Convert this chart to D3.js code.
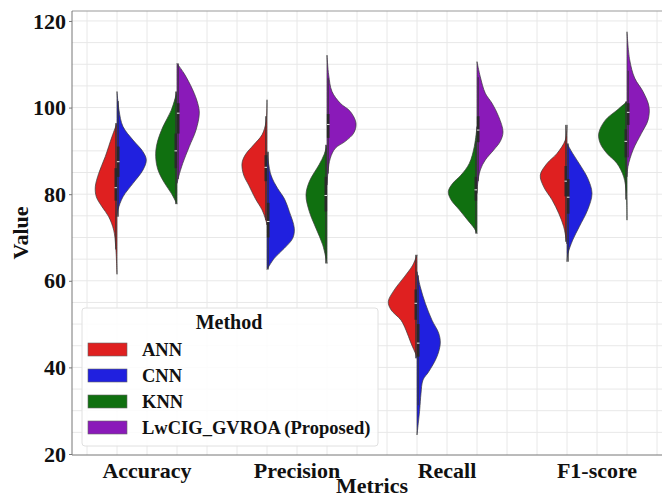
<!DOCTYPE html>
<head>
<meta charset="utf-8">
<script src="https://d3js.org/d3.v7.min.js"></script>
<style>
  body { margin: 0; background: #fff; }
  svg { display: block; font-family: "Liberation Serif", "DejaVu Serif", serif; }
</style>
</head>
<body>
<script>
const metrics = ["Accuracy", "Precision", "Recall", "F1-score"],
    methods = ["ANN", "CNN", "KNN", "LwCIG_GVROA (Proposed)"],
    colors = ["#df2020", "#2020df", "#107010", "#8a1ab9"],
    yTicks = [20, 40, 60, 80, 100, 120];

// density profiles: [value, relative density], one list per metric
const annProfiles = [
    [[61.5, 0], [67.9, 1.3], [71.7, 3.3], [74.8, 8.3], [77.1, 15], [79.4, 20.7], [81.7, 21.7], [84.8, 18.3], [88.7, 11.7], [93.3, 5], [96.4, 0]],
    [[72.9, 0], [74.4, 1.7], [76.4, 5], [79.0, 11.7], [82.1, 18.3], [84.4, 23.3], [87.1, 25], [89.1, 21.7], [91.4, 13.3], [93.7, 5], [96.7, 1], [101.8, 0]],
    [[42.1, 0], [42.9, 1], [45.6, 6], [48.6, 11], [50.9, 16], [53.3, 26], [55.2, 28.7], [57.9, 22.7], [60.9, 12.7], [63.6, 4.3], [66, 0]],
    [[68.5, 0], [69.4, 0.7], [72.5, 3.3], [75.6, 8.3], [78.7, 15], [81.7, 23.3], [84.4, 26.7], [87.1, 20], [89.4, 10], [92.5, 1.7], [96, 0]]
];
const cnnProfiles = [
    [[74.8, 0], [76.4, 1], [79.4, 6], [82.5, 16], [85.6, 26], [87.9, 29.3], [89.8, 26], [92.5, 16], [95.6, 6], [99.4, 2], [103.7, 0]],
    [[62.6, 0], [65.2, 7.3], [67.5, 17.3], [69.8, 25.7], [72.1, 27.3], [76, 22.3], [79, 17.3], [81.3, 10.7], [84.4, 4], [89.8, 0]],
    [[24.4, 0], [30.2, 2.7], [34, 4], [37.1, 6], [39, 11.7], [42.5, 20], [45.6, 23.3], [47.9, 21.7], [50.9, 15], [54.8, 8.3], [58.6, 3.3], [62.1, 0]],
    [[64.4, 0], [66.3, 1], [69.4, 5.7], [72.5, 12.3], [76.4, 20.7], [80.2, 25], [83.7, 20.7], [86.4, 14], [89.4, 5.7], [91.7, 0]]
];
const knnProfiles = [
    [[77.7, 0], [80.2, 5.7], [82.5, 12.3], [85.6, 19], [88.7, 21.3], [91.7, 20], [95.6, 14], [99.4, 5.7], [103.7, 0]],
    [[64, 0], [68.3, 4.3], [72.1, 11], [76, 17.7], [79.8, 21], [82.9, 17.7], [86.9, 7.7], [89.1, 3], [91.4, 0]],
    [[70.9, 0], [72.1, 2.7], [74, 9.3], [76.4, 17.7], [78.7, 26], [80.6, 28.7], [82.5, 24.3], [84.4, 16], [87.1, 7.7], [91, 2.7], [95.6, 0]],
    [[74, 0], [80.2, 0.7], [84, 3.3], [87.1, 10], [89.4, 20], [91.7, 26.7], [94, 28.3], [97.1, 21.7], [99.4, 10], [101.4, 0]]
];
const propProfiles = [
    [[82.5, 0], [84.1, 1.7], [87.1, 5.7], [91, 12.3], [94.8, 19], [98.7, 22.3], [101, 20.7], [104.1, 15.7], [107.9, 7], [110.2, 0]],
    [[82.1, 0], [85.2, 1], [88.3, 3.3], [90.6, 8.3], [92.2, 18.3], [94.1, 26.7], [96.4, 29], [99.1, 23.3], [101, 13.3], [103.7, 5], [107.5, 1.7], [112.1, 0]],
    [[80.2, 0], [82.5, 0.7], [85.6, 3.3], [87.9, 8.3], [90.2, 16.7], [92.2, 23.3], [94.4, 26], [97.9, 21.7], [101, 15], [103.3, 8.3], [107.1, 3.3], [110.6, 0]],
    [[84, 0], [86.4, 1], [90.2, 6], [94, 14.3], [97.1, 21], [100.2, 22], [103.7, 16], [106.8, 7.7], [111, 2.7], [117.5, 0]]
];

// quartiles per metric: [q1, median, q3]
const annBox = [[78.5, 81.5, 86], [83, 86.2, 89], [51, 54.8, 58], [79.5, 83, 86.5]];
const cnnBox = [[84, 87.5, 91], [70, 73.7, 78], [42.5, 45.6, 50], [75.5, 79.3, 83.5]];
const knnBox = [[86, 90, 94], [76, 79.7, 84], [78.5, 81, 84], [88.5, 92.2, 95]];
const propBox = [[94, 98.7, 101], [93, 96.1, 98.5], [92, 94.8, 98], [96, 98.9, 101]];

const W = 662, H = 498,
    margin = { left: 72, top: 11, bottom: 455 };

const svg = d3.select("body").append("svg").attr("width", W).attr("height", H);

const x = d3.scaleBand().domain(metrics).range([margin.left, 672]),
    y = d3.scaleLinear().domain([19.77, 122.3]).range([margin.bottom, margin.top]),
    dens = d3.scaleLinear().domain([0, 30]).range([0, x.bandwidth() * 0.2]);

svg.append("clipPath").attr("id", "plot")
    .append("rect").attr("x", margin.left).attr("y", margin.top)
    .attr("width", 672 - margin.left).attr("height", margin.bottom - margin.top);

// grid (major + minor)
const grid = svg.append("g").attr("clip-path", "url(#plot)");
const vLines = d3.range(-0.4, 3.5, 0.2).map(d => x(metrics[0]) + x.bandwidth() / 2 + d * x.bandwidth());
grid.selectAll(".vg").data(vLines).enter().append("line")
    .attr("x1", d => d).attr("x2", d => d)
    .attr("y1", margin.top).attr("y2", margin.bottom)
    .attr("stroke", "#e8e8e8").attr("stroke-width", 1);
grid.selectAll(".hg").data(d3.range(25, 122, 5)).enter().append("line")
    .attr("x1", margin.left).attr("x2", 672)
    .attr("y1", d => y(d)).attr("y2", d => y(d))
    .attr("stroke", "#e8e8e8").attr("stroke-width", 1);

const groups = [
    { prof: annProfiles, box: annBox, pair: 0, side: -1, color: colors[0] },
    { prof: cnnProfiles, box: cnnBox, pair: 0, side: 1, color: colors[1] },
    { prof: knnProfiles, box: knnBox, pair: 1, side: -1, color: colors[2] },
    { prof: propProfiles, box: propBox, pair: 1, side: 1, color: colors[3] }
];

const center = (m, pair) => x(m) + x.bandwidth() / 2 + (pair === 0 ? -0.2 : 0.2) * x.bandwidth();

const plot = svg.append("g");
groups.forEach(g => {
    metrics.forEach((m, i) => {
        const cx = center(m, g.pair);
        const area = d3.area()
            .curve(d3.curveCatmullRom.alpha(0.5))
            .y(d => y(d[0]))
            .x0(cx)
            .x1(d => cx + g.side * dens(d[1]));
        plot.append("path")
            .datum(g.prof[i])
            .attr("d", area)
            .attr("fill", g.color)
            .attr("stroke", "#3a3a3a")
            .attr("stroke-width", 0.7);
    });
});

// inner boxes
groups.forEach(g => {
    metrics.forEach((m, i) => {
        const cx = center(m, g.pair),
            [q1, med, q3] = g.box[i],
            ext = d3.extent(g.prof[i], d => d[0]),
            iqr = q3 - q1,
            lo = Math.max(ext[0], q1 - 1.5 * iqr),
            hi = Math.min(ext[1], q3 + 1.5 * iqr),
            bx = cx + g.side * 1.2;
        plot.append("line")
            .attr("x1", bx).attr("x2", bx)
            .attr("y1", y(lo)).attr("y2", y(hi))
            .attr("stroke", "#333").attr("stroke-width", 1);
        plot.append("line")
            .attr("x1", bx).attr("x2", bx)
            .attr("y1", y(q1)).attr("y2", y(q3))
            .attr("stroke", "#2a2a2a").attr("stroke-width", 2.6);
        plot.append("line")
            .attr("x1", bx - 1.3).attr("x2", bx + 1.3)
            .attr("y1", y(med)).attr("y2", y(med))
            .attr("stroke", "#e8e8e8").attr("stroke-width", 1);
    });
});

// spines
svg.append("line").attr("x1", margin.left).attr("x2", W).attr("y1", margin.top).attr("y2", margin.top)
    .attr("stroke", "#999").attr("stroke-width", 1.2);
svg.append("line").attr("x1", margin.left).attr("x2", margin.left).attr("y1", margin.top).attr("y2", margin.bottom)
    .attr("stroke", "#777").attr("stroke-width", 1);
svg.append("line").attr("x1", margin.left).attr("x2", W).attr("y1", margin.bottom).attr("y2", margin.bottom)
    .attr("stroke", "#777").attr("stroke-width", 1);

// axes
const yAxis = svg.append("g").attr("transform", `translate(${margin.left},0)`)
    .call(d3.axisLeft(y).tickValues(yTicks).tickSize(3).tickPadding(3));
yAxis.select(".domain").remove();
yAxis.selectAll("line").attr("stroke", "#777");
yAxis.selectAll("text").attr("font-size", 22).attr("font-weight", "bold")
    .attr("font-family", "Liberation Serif").attr("fill", "#111");

const xAxis = svg.append("g").attr("transform", `translate(0,${margin.bottom})`)
    .call(d3.axisBottom(x).tickSize(0).tickPadding(7));
xAxis.select(".domain").remove();
xAxis.selectAll("text").attr("font-size", 22).attr("font-weight", "bold")
    .attr("font-family", "Liberation Serif").attr("fill", "#111");

svg.append("text").attr("x", 372).attr("y", 493).attr("text-anchor", "middle")
    .attr("font-size", 22).attr("font-weight", "bold").attr("fill", "#111").text("Metrics");
svg.append("text").attr("transform", "translate(28,233) rotate(-90)").attr("text-anchor", "middle")
    .attr("font-size", 22).attr("font-weight", "bold").attr("fill", "#111").text("Value");

// legend
const lg = svg.append("g").attr("transform", "translate(82,308)");
lg.append("rect").attr("width", 296).attr("height", 138).attr("rx", 3)
    .attr("fill", "#fff").attr("fill-opacity", 0.85).attr("stroke", "#e0e0e0");
lg.append("text").attr("x", 147).attr("y", 21).attr("text-anchor", "middle")
    .attr("font-size", 20).attr("font-weight", "bold").attr("fill", "#111").text("Method");
const items = lg.selectAll(".item").data(methods).enter().append("g")
    .attr("transform", (d, i) => `translate(6,${35 + i * 26})`);
items.append("rect").attr("width", 39).attr("height", 13)
    .attr("fill", (d, i) => colors[i]).attr("stroke", "#666").attr("stroke-width", 0.6);
items.append("text").attr("x", 54).attr("y", 13)
    .attr("font-size", 18.5).attr("font-weight", "bold").attr("fill", "#111").text(d => d);
</script>
</body>
